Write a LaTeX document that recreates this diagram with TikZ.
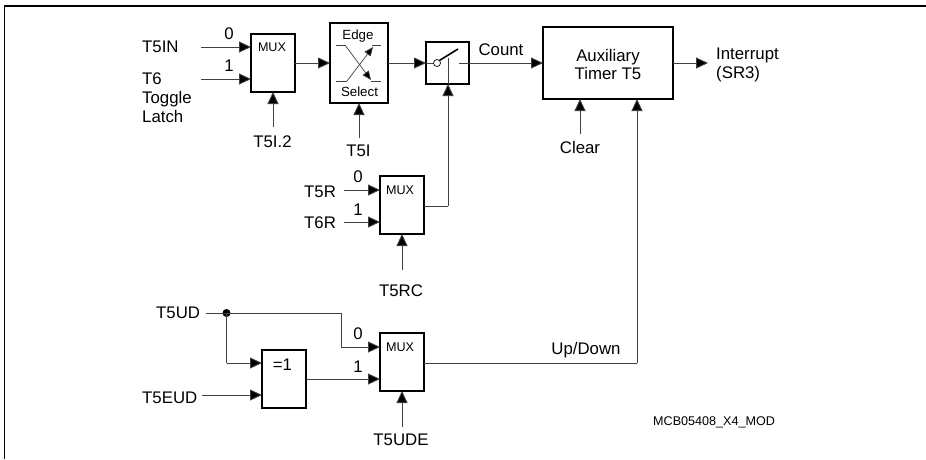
\documentclass[tikz,border=0pt]{standalone}
\usepackage{fontspec}
\setmainfont{Liberation Sans}
\usetikzlibrary{arrows.meta}
\begin{document}
\begin{tikzpicture}[x=1pt,y=-1pt,
  wire/.style={draw=black!75,line width=0.9pt},
  arr/.style={wire,-{Triangle[length=12pt,width=11pt,fill=black]}},
  miniarr/.style={wire,line width=0.7pt,-{Triangle[length=9pt,width=7.5pt,fill=black]}},
  blk/.style={draw=black,line width=2pt,fill=white,minimum width=0pt,minimum height=0pt,inner sep=0pt,outer sep=0pt},
  thickblk/.style={blk,line width=2.6pt},
  lab/.style={inner sep=0pt,font=\fontsize{16.8}{19}\selectfont},
  small/.style={inner sep=0pt,font=\fontsize{12.6}{14}\selectfont}]
\useasboundingbox (0,0) rectangle (926,459);
\draw[line width=1.1pt] (4.5,459) -- (4.5,6) -- (926,6);
% blocks
\node[blk,minimum width=44pt,minimum height=58pt] (m1) at (273,63) {};
\node[thickblk,minimum width=58pt,minimum height=80pt] (es) at (359,63) {};
\node[thickblk,minimum width=43pt,minimum height=42pt] (sw) at (447.5,63) {};
\node[thickblk,minimum width=130pt,minimum height=72pt] (tm) at (608,63) {};
\node[blk,minimum width=44pt,minimum height=58pt] (m2) at (402,205) {};
\node[blk,minimum width=44pt,minimum height=58pt] (m3) at (402,362) {};
\node[blk,minimum width=44pt,minimum height=58pt] (xo) at (284,379) {};
% block text
\node[small] at (272,47) {MUX};
\node[small] at (400,190) {MUX};
\node[small] at (400,347) {MUX};
\node[lab] at (282.5,365) {=1};
\node[small,font=\fontsize{13.3}{15}\selectfont] (edge) at (358,36) {Edge};
\node[small,font=\fontsize{13.3}{15}\selectfont] (sel) at (359.5,92) {Select};
\node[lab,align=center,font=\fontsize{16.8}{18}\selectfont] (tmt) at (608,64.5) {Auxiliary\\[0.3pt]Timer T5};
% edge-select glyph
\draw[wire,line width=0.7pt] (336,45) -- (345,45);
\draw[wire,line width=0.7pt] (336,81) -- (347,81);
\draw[wire,line width=0.7pt] (372,45) -- (381,45);
\draw[wire,line width=0.7pt] (371,81) -- (381,81);
\draw[miniarr] (345,45) -- (371,80);
\draw[miniarr] (347,81) -- (373,47);
% switch glyph
\draw[wire] (sw.west) -- (433,63);
\node[circle,draw=black,line width=0.7pt,fill=white,minimum size=7pt,inner sep=0pt] (cc) at (437,63) {};
\draw[line width=1.6pt] (cc.north east) -- (458,49);
% input labels
\node[lab,anchor=west] (t5in) at (142,47) {T5IN};
\node[lab,anchor=north west,align=left,font=\fontsize{16.8}{19}\selectfont] (t6) at (142,72.5) {T6\\Toggle\\Latch};
\coordinate (t6e) at (201,79);
\coordinate (t5ine) at (201,47);
\node[lab] at (229,34) {0};
\node[lab] at (229,66) {1};
\draw[arr] (t5ine) -- (m1.west |- t5ine);
\draw[arr] (t6e) -- (m1.west |- t6e);
\draw[arr] (m1.east |- 0,63) -- (es.west |- 0,63);
\draw[arr] (es.east |- 0,63) -- (sw.west |- 0,63);
\draw[wire] (459,63) -- (sw.east |- 0,63);
\draw[arr] (sw.east |- 0,63) -- (tm.west |- 0,63);
\node[lab] (cnt) at (501,50) {Count};
\node[lab] (tc) at (272.5,141.5) {T5I.2};
\draw[arr] (273,127) -- (m1.south -| 273,0);
\node[lab] (ti) at (358.5,151) {T5I};
\draw[arr] (359,138) -- (es.south -| 359,0);
\draw[wire] (m2.east |- 0,206) -- (448,206);
\draw[arr] (448,206) -- (sw.south -| 448,0);
\draw[wire] (448,84) -- (448,58);
\node[lab,anchor=west] (r5) at (304,191.5) {T5R};
\node[lab,anchor=west] (r6) at (304,223) {T6R};
\node[lab] at (358,177) {0};
\node[lab] at (358,210) {1};
\coordinate (r5e) at (344,190);
\coordinate (r6e) at (344,222);
\draw[arr] (r5e) -- (m2.west |- r5e);
\draw[arr] (r6e) -- (m2.west |- r6e);
\node[lab] (rc) at (401,291) {T5RC};
\draw[arr] (402,270) -- (m2.south -| 402,0);
% timer
\draw[arr] (tm.east |- 0,63) -- (708,63);
\node[lab,anchor=west,align=left,font=\fontsize{16.8}{18.5}\selectfont] (irq) at (716,65) {Interrupt\\(SR3)};
\node[lab] (clr) at (580,147) {Clear};
\draw[arr] (580,134) -- (tm.south -| 580,0);
\draw[wire] (m3.east |- 0,363) -- (637,363);
\draw[arr] (637,363) -- (tm.south -| 637,0);
\node[lab] (ud) at (586,350) {Up/Down};
% bottom
\node[lab,anchor=west] (t5ud) at (156,313) {T5UD};
\node[lab,anchor=west] (t5eud) at (142,398) {T5EUD};
\coordinate (dot) at (226.5,313);
\coordinate (ude) at (206,313);
\fill (dot) circle (4pt);
\draw[wire] (ude) -- (dot);
\draw[wire] (dot) -- (341,313) -- (341,347);
\draw[arr] (341,347) -- (m3.west |- 0,347);
\draw[wire] (dot) -- (226.5,363);
\draw[arr] (226.5,363) -- (xo.west |- 0,363);
\draw[arr] (202,395) -- (xo.west |- 0,395);
\draw[arr] (xo.east |- 0,379) -- (m3.west |- 0,379);
\node[lab] at (358,334) {0};
\node[lab] at (358,367) {1};
\node[lab] (tude) at (401,440) {T5UDE};
\draw[arr] (402,427) -- (m3.south -| 402,0);
\node[small,anchor=west] (mcb) at (653,422) {MCB05408\_X4\_MOD};
\end{tikzpicture}
\end{document}
